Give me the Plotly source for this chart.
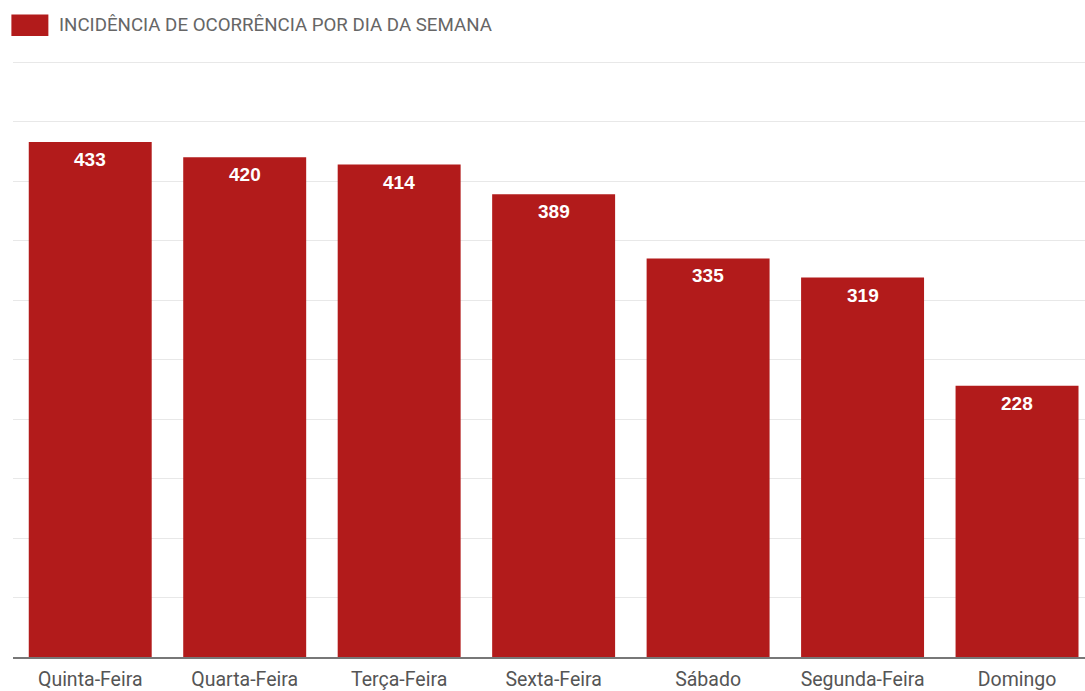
import plotly.graph_objects as go

# Ocorrências por dia da semana
dias = ["Quinta-Feira", "Quarta-Feira", "Terça-Feira", "Sexta-Feira",
        "Sábado", "Segunda-Feira", "Domingo"]
ocorrencias = [433, 420, 414, 389, 335, 319, 228]
serie_nome = "INCIDÊNCIA DE OCORRÊNCIA POR DIA DA SEMANA"

BAR_COLOR = "#B21B1B"

fig = go.Figure(
    go.Bar(
        x=dias,
        y=ocorrencias,
        name=serie_nome,
        marker=dict(color=BAR_COLOR, line=dict(width=0)),
        showlegend=False,
    )
)

# Value labels just inside the top of each bar
for dia, valor in zip(dias, ocorrencias):
    fig.add_annotation(x=dia, y=valor, text=str(valor),
                       xanchor="center", yanchor="top", yshift=-5,
                       showarrow=False,
                       font=dict(family="Arial", size=19, color="white",
                                 weight="bold"))

# Legend swatch and label
fig.add_shape(type="rect", xref="paper", yref="paper",
              x0=-0.0015, x1=0.0330, y0=1.042, y1=1.078,
              fillcolor=BAR_COLOR, line=dict(width=0), layer="above")
fig.add_annotation(text=serie_nome, xref="paper", yref="paper",
                   x=0.0415, y=1.061, xanchor="left", yanchor="middle",
                   showarrow=False,
                   font=dict(family="Roboto", size=18.7, color="#666666"))

fig.update_layout(
    width=1085, height=691,
    margin=dict(l=13, r=0, t=61, b=30),
    paper_bgcolor="white", plot_bgcolor="white",
    bargap=0.204,
    font=dict(family="Roboto", color="#555555"),
)
fig.update_xaxes(
    range=[-0.5, 6.44],
    showgrid=False,
    showline=True, linecolor="#777777", linewidth=1.5,
    ticks="", tickfont=dict(family="Roboto", size=19.5, color="#555555"),
    ticklabelstandoff=4,
)
fig.update_yaxes(
    range=[0, 501], tickvals=[50 * i for i in range(1, 11)],
    showgrid=True, gridcolor="#E8E8E8", gridwidth=1,
    showticklabels=False, zeroline=False,
)

fig.write_html("out.html")
